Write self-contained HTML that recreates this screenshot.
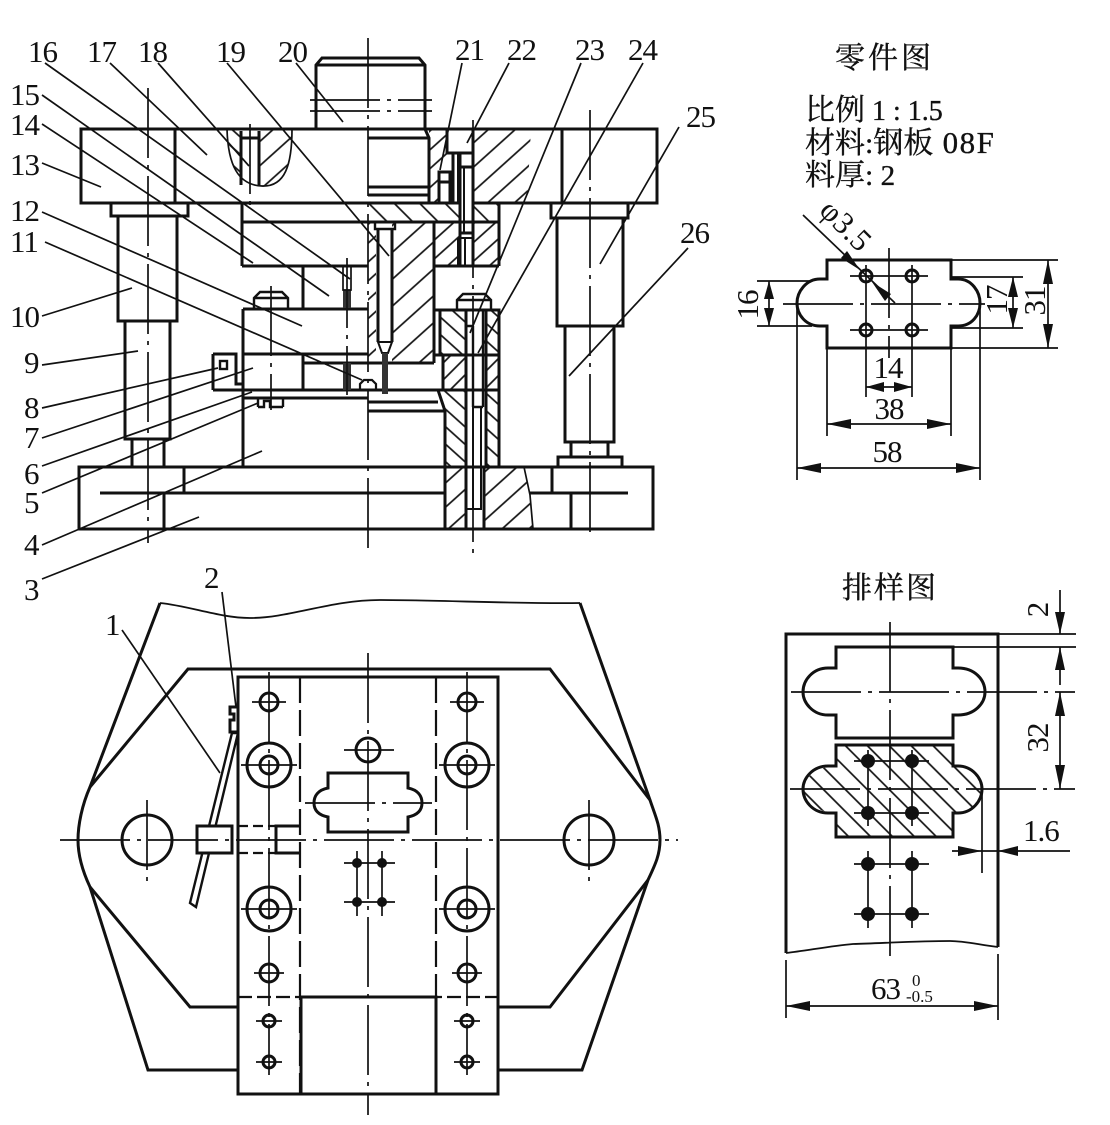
<!DOCTYPE html>
<html><head><meta charset="utf-8"><style>
html,body{margin:0;padding:0;background:#fff}
svg{display:block}
text{font-family:"Liberation Serif","Noto Serif CJK SC",serif;fill:#111}
.t{font-size:31px;letter-spacing:-1px}
.c{font-size:30px;font-family:"Liberation Serif","Noto Serif CJK SC",serif;stroke:#111;stroke-width:.35}
.k{fill:none;stroke:#111;stroke-width:3}
.w{fill:#fff;stroke:#111;stroke-width:3}
.n{fill:none;stroke:#111;stroke-width:1.7}
.cl{fill:none;stroke:#111;stroke-width:1.7;stroke-dasharray:70 7 4 7}
.d{fill:none;stroke:#111;stroke-width:2.2;stroke-dasharray:26 7}
</style></head><body>
<svg width="1110" height="1125" viewBox="0 0 1110 1125" xmlns="http://www.w3.org/2000/svg">
<defs>
<pattern id="a12" width="10" height="12" patternUnits="userSpaceOnUse" patternTransform="rotate(-45)"><line x1="0" y1="6" x2="10" y2="6" stroke="#111" stroke-width="1.7"/></pattern>
<pattern id="a14" width="10" height="14" patternUnits="userSpaceOnUse" patternTransform="rotate(-42)"><line x1="0" y1="7" x2="10" y2="7" stroke="#111" stroke-width="1.7"/></pattern>
<pattern id="a20" width="10" height="20" patternUnits="userSpaceOnUse" patternTransform="rotate(-42)"><line x1="0" y1="10" x2="10" y2="10" stroke="#111" stroke-width="1.7"/></pattern>
<pattern id="a25" width="10" height="18" patternUnits="userSpaceOnUse" patternTransform="rotate(-42)"><line x1="0" y1="9" x2="10" y2="9" stroke="#111" stroke-width="1.7"/></pattern>
<pattern id="b14" width="10" height="13" patternUnits="userSpaceOnUse" patternTransform="rotate(42)"><line x1="0" y1="6" x2="10" y2="6" stroke="#111" stroke-width="1.7"/></pattern>
<pattern id="b17" width="10" height="18" patternUnits="userSpaceOnUse" patternTransform="rotate(45)"><line x1="0" y1="9" x2="10" y2="9" stroke="#111" stroke-width="1.7"/></pattern>
<pattern id="b15" width="10" height="15.5" patternUnits="userSpaceOnUse" patternTransform="rotate(45)"><line x1="0" y1="7" x2="10" y2="7" stroke="#111" stroke-width="1.7"/></pattern>
</defs>

<!-- hatching upper view -->
<polygon fill="url(#a25)" points="473,129 531,129 527,203 473,203"/>
<polygon fill="url(#a14)" points="429,129 447,129 447,171 439,171 439,203 429,203"/>
<rect fill="url(#b17)" x="368" y="204" width="131" height="18"/>
<rect fill="url(#a14)" x="434" y="222" width="65" height="44"/>
<rect fill="url(#a20)" x="392" y="222" width="41" height="141"/>
<rect fill="url(#a14)" x="368" y="222" width="8" height="141"/>
<rect fill="url(#b14)" x="440" y="310" width="27" height="45"/>
<rect fill="url(#b14)" x="486" y="310" width="12" height="45"/>
<rect fill="url(#a12)" x="444" y="355" width="23" height="35"/>
<rect fill="url(#a12)" x="486" y="355" width="12" height="35"/>
<polygon fill="url(#b14)" points="438,390 466,390 466,467 445,467 445,411"/>
<rect fill="url(#b14)" x="486" y="390" width="12" height="77"/>
<rect fill="url(#a25)" x="446" y="467" width="20" height="62"/>
<polygon fill="url(#a25)" points="484,467 524,467 530,495 533,529 484,529"/>
<path fill="url(#a25)" d="M259,129 L292,129 C292,165 285,187 259,187Z"/>
<path fill="url(#b14)" d="M227,129 L241,129 L241,180 C232,170 228,155 227,129Z"/>

<!-- top plate -->
<g class="k">
<rect x="81" y="129" width="576" height="74"/>
<line x1="175" y1="129" x2="175" y2="203"/>
<line x1="562" y1="129" x2="562" y2="203"/>
<!-- shank -->
<path d="M316,129 V65 L322,58 H419 L425,65 V129"/>
<line x1="316" y1="65" x2="425" y2="65"/>
<path d="M425,129 L429,138 V203"/>
<line x1="368" y1="138" x2="429" y2="138"/>
<line x1="368" y1="187" x2="429" y2="187"/>
<line x1="368" y1="195" x2="429" y2="195"/>
<!-- pin head 22 -->
<path d="M447,129 V153 H473"/>
<line x1="473" y1="129" x2="473" y2="203"/>
<line x1="453" y1="153" x2="453" y2="203"/>
<line x1="458" y1="153" x2="458" y2="203" stroke-width="2"/>
<rect class="w" x="460" y="153" width="13" height="113"/>
<line x1="460" y1="167" x2="473" y2="167"/>
<line x1="464" y1="167" x2="464" y2="233" stroke-width="2"/>
<line x1="460" y1="233" x2="473" y2="233"/>
<line x1="460" y1="238" x2="473" y2="238" stroke-width="2"/>
<line x1="465" y1="238" x2="465" y2="266" stroke-width="2"/>
<line x1="458" y1="238" x2="458" y2="266" stroke-width="2"/>
<rect class="w" x="439" y="172" width="11" height="31"/>
<line x1="439" y1="182" x2="450" y2="182"/>
<!-- stop in top plate -->
<line x1="241" y1="131" x2="241" y2="185"/>
<line x1="259" y1="131" x2="259" y2="185"/>
<line x1="241" y1="138" x2="259" y2="138"/>
</g>
<path class="n" d="M227,129 C228,165 238,185 262,186 C285,187 292,165 292,129"/>

<!-- upper backing / punch plates -->
<g class="k">
<line x1="242" y1="203" x2="242" y2="266"/>
<line x1="242" y1="222" x2="499" y2="222"/>
<line x1="242" y1="266" x2="368" y2="266"/>
<line x1="434" y1="266" x2="499" y2="266"/>
<line x1="499" y1="203" x2="499" y2="266"/>
<line x1="434" y1="222" x2="434" y2="363"/>
<line x1="303" y1="266" x2="303" y2="308"/>
<!-- left guide -->
<rect x="111" y="203" width="77" height="13"/>
<rect class="w" x="118" y="216" width="59" height="105"/>
<rect class="w" x="125" y="321" width="45" height="118"/>
<path d="M132,439 V467 M164,439 V467"/>
<!-- right guide -->
<path d="M551,203 V218 H628 V203"/>
<rect class="w" x="557" y="218" width="66" height="108"/>
<rect class="w" x="565" y="326" width="49" height="116"/>
<path d="M571,442 V457 M608,442 V457"/>
<path d="M558,467 V457 H622 V467"/>
<!-- base -->
<rect x="79" y="467" width="574" height="62"/>
<line x1="100" y1="493" x2="445" y2="493"/>
<line x1="530" y1="493" x2="628" y2="493"/>
<line x1="184" y1="467" x2="184" y2="493"/>
<line x1="164" y1="493" x2="164" y2="529"/>
<line x1="552" y1="467" x2="552" y2="493"/>
<line x1="571" y1="493" x2="571" y2="529"/>
<!-- die block stack left -->
<line x1="243" y1="309" x2="243" y2="467"/>
<line x1="243" y1="309" x2="368" y2="309"/>
<line x1="243" y1="354" x2="368" y2="354"/>
<line x1="303" y1="354" x2="303" y2="390"/>
<line x1="303" y1="363" x2="376" y2="363"/>
<line x1="213" y1="390" x2="443" y2="390"/>
<line x1="243" y1="398" x2="368" y2="398"/>
<line x1="368" y1="402" x2="438" y2="402"/>
<line x1="368" y1="411" x2="445" y2="411"/>
<path d="M213,354 H236 V384 H243 M213,354 V390"/>
<rect x="220" y="361" width="7" height="8" stroke-width="2.4"/>
<path d="M258,407 V398 M283,407 V398 M258,407 H264 V401 H270 V407 H283" stroke-width="2.4"/>
<path d="M254,309 V298 L260,292 H282 L288,298 V309 M254,298 H288" stroke-width="2.4"/>
<!-- right plates -->
<path d="M434,310 H499 V467"/>
<line x1="440" y1="310" x2="440" y2="355"/>
<line x1="434" y1="310" x2="434" y2="355"/>
<line x1="434" y1="355" x2="499" y2="355"/>
<line x1="443" y1="355" x2="443" y2="390"/>
<line x1="434" y1="390" x2="499" y2="390"/>
<path d="M438,390 L445,411 V529"/>
<line x1="466" y1="310" x2="466" y2="529"/>
<line x1="486" y1="310" x2="486" y2="467"/>
<line x1="484" y1="467" x2="484" y2="529"/>
<path d="M457,309 V300 L463,294 H485 L491,300 V309 M457,300 H491" stroke-width="2.4"/>
<line x1="445" y1="467" x2="553" y2="467"/>
<!-- long pin -->
<path d="M466,326 H473 M473,326 V407 M483,310 V407 M473,407 H483" stroke-width="2.4"/>
<path d="M473,407 V510 M481,407 V510 M466,509 H481" stroke-width="2"/>
<!-- central pin -->
<path d="M375,222 V229 H395 V222" stroke-width="2.4"/>
<path d="M378,229 V342 M392,229 V342" stroke-width="3"/>
<path d="M378,342 H392 L388,353 H382Z" stroke-width="2"/>
<line x1="368" y1="363" x2="434" y2="363"/>
<path d="M360,390 V384 L364,380 H372 L376,384 V390" stroke-width="2.2"/>
</g>
<path class="n" d="M524,467 L530,495 L533,529"/>
<rect x="382" y="353" width="6" height="41" fill="#333"/>
<rect x="343" y="290" width="8" height="18" fill="#333"/>
<rect x="343" y="363" width="8" height="27" fill="#333"/>
<path class="n" stroke-width="2.4" d="M343,266 V290 H351 V266"/>

<!-- center lines upper -->
<line class="cl" x1="368" y1="38" x2="368" y2="555"/>
<line class="cl" x1="148" y1="88" x2="148" y2="543"/>
<line class="cl" x1="590" y1="110" x2="590" y2="538"/>
<line class="cl" x1="473" y1="120" x2="473" y2="560"/>
<line class="cl" x1="271" y1="286" x2="271" y2="410"/>
<line class="cl" x1="347" y1="258" x2="347" y2="395"/>
<line class="cl" x1="250" y1="124" x2="250" y2="212"/>
<line class="cl" x1="310" y1="100" x2="432" y2="100"/>
<line class="cl" x1="310" y1="111" x2="432" y2="111"/>

<!-- leaders -->
<g class="n">
<line x1="45" y1="63" x2="350" y2="279"/>
<line x1="110" y1="63" x2="207" y2="155"/>
<line x1="158" y1="63" x2="249" y2="166"/>
<line x1="227" y1="63" x2="389" y2="256"/>
<line x1="296" y1="63" x2="343" y2="122"/>
<line x1="462" y1="63" x2="440" y2="170"/>
<line x1="509" y1="63" x2="467" y2="143"/>
<line x1="581" y1="63" x2="470" y2="333"/>
<line x1="643" y1="63" x2="478" y2="353"/>
<line x1="679" y1="127" x2="600" y2="264"/>
<line x1="688" y1="248" x2="569" y2="376"/>
<line x1="42" y1="95" x2="329" y2="296"/>
<line x1="42" y1="124" x2="253" y2="263"/>
<line x1="42" y1="163" x2="101" y2="187"/>
<line x1="42" y1="212" x2="302" y2="326"/>
<line x1="45" y1="242" x2="362" y2="380"/>
<line x1="42" y1="316" x2="132" y2="288"/>
<line x1="42" y1="365" x2="138" y2="351"/>
<line x1="42" y1="408" x2="218" y2="368"/>
<line x1="42" y1="438" x2="253" y2="368"/>
<line x1="42" y1="466" x2="252" y2="392"/>
<line x1="42" y1="493" x2="258" y2="403"/>
<line x1="42" y1="545" x2="262" y2="451"/>
<line x1="42" y1="579" x2="199" y2="517"/>
<line x1="122" y1="630" x2="220" y2="773"/>
<line x1="222" y1="592" x2="236" y2="707"/>
</g>

<!-- labels -->
<g class="t">
<text x="28" y="62">16</text><text x="87" y="62">17</text><text x="138" y="62">18</text><text x="216" y="62">19</text><text x="278" y="62">20</text>
<text x="455" y="60">21</text><text x="507" y="60">22</text><text x="575" y="60">23</text><text x="628" y="60">24</text>
<text x="686" y="127">25</text><text x="680" y="243">26</text>
<text x="10" y="105">15</text><text x="10" y="135">14</text><text x="10" y="175">13</text><text x="10" y="221">12</text><text x="10" y="252">11</text><text x="10" y="327">10</text>
<text x="24" y="373">9</text><text x="24" y="418">8</text><text x="24" y="448">7</text><text x="24" y="484">6</text><text x="24" y="513">5</text><text x="24" y="555">4</text><text x="24" y="600">3</text>
<text x="204" y="588">2</text><text x="105" y="635">1</text>
</g>

<!-- lower view -->
<path fill="none" stroke="#111" stroke-width="1.8" d="M160,603 C190,606 220,618 250,618 C290,618 330,600 380,600 C440,600 520,604 580,603"/>
<g class="k" stroke-width="2.6">
<path d="M580,603 L650,800 C655,815 660,825 660,840 C660,855 655,865 648,880 L582,1070 H498"/>
<path d="M160,603 L90,787 C82,805 78,825 78,840 C78,855 82,870 90,887 L148,1070 H238"/>
<path d="M90,787 L188,669 H550 L650,800"/>
<path d="M90,887 L190,1007 H238 M498,1007 H550 L648,880"/>
</g>
<rect class="w" x="238" y="677" width="260" height="417"/>
<g class="k">
<rect x="301" y="997" width="135" height="97"/>
<circle cx="147" cy="840" r="25"/><circle cx="589" cy="840" r="25"/>
<circle cx="368" cy="750" r="12"/>
<circle cx="269" cy="702" r="9"/><circle cx="467" cy="702" r="9"/>
<circle cx="269" cy="765" r="22"/><circle cx="269" cy="765" r="9"/>
<circle cx="467" cy="765" r="22"/><circle cx="467" cy="765" r="9"/>
<circle cx="269" cy="909" r="22"/><circle cx="269" cy="909" r="9"/>
<circle cx="467" cy="909" r="22"/><circle cx="467" cy="909" r="9"/>
<circle cx="269" cy="973" r="9"/><circle cx="467" cy="973" r="9"/>
<circle cx="269" cy="1021" r="6"/><circle cx="467" cy="1021" r="6"/>
<circle cx="269" cy="1062" r="6"/><circle cx="467" cy="1062" r="6"/>
<path d="M328,788 V773 H408 V788 C418,790 422,796 422,803 C422,810 418,815 408,817 V832 H328 V817 C318,815 314,810 314,803 C314,796 318,790 328,788Z"/>
<path d="M300,826 H276 V853 H300"/>
</g>
<g fill="#111"><circle cx="357" cy="863" r="5"/><circle cx="382" cy="863" r="5"/><circle cx="357" cy="902" r="5"/><circle cx="382" cy="902" r="5"/></g>
<g class="d">
<line x1="300" y1="677" x2="300" y2="1094"/>
<line x1="436" y1="677" x2="436" y2="1094"/>
<line x1="238" y1="997" x2="498" y2="997" stroke-dasharray="14 5"/>
<line x1="238" y1="826" x2="276" y2="826" stroke-dasharray="10 5"/>
<line x1="238" y1="853" x2="276" y2="853" stroke-dasharray="10 5"/>
</g>
<!-- lever -->
<polygon points="232,733 238,733 196,907 190,903" fill="#fff" stroke="#111" stroke-width="2.4"/>
<rect class="w" x="197" y="826" width="35" height="27"/>
<line class="k" x1="232" y1="826" x2="232" y2="853"/>
<line class="k" x1="238" y1="826" x2="238" y2="853"/>
<path class="k" stroke-width="2.4" d="M238,707 H230 V714 H234 V720 H230 V732 H238"/>

<g class="cl">
<line x1="60" y1="840" x2="678" y2="840"/>
<line x1="368" y1="653" x2="368" y2="1115"/>
<line x1="147" y1="800" x2="147" y2="882"/>
<line x1="589" y1="800" x2="589" y2="882"/>
<line x1="269" y1="672" x2="269" y2="1075"/>
<line x1="467" y1="672" x2="467" y2="1075"/>
<line x1="305" y1="803" x2="432" y2="803"/>
<line x1="357" y1="851" x2="357" y2="916"/>
<line x1="382" y1="851" x2="382" y2="916"/>
</g>
<g class="n">
<path d="M252,702 H286 M450,702 H484 M241,765 H297 M439,765 H495 M241,909 H297 M439,909 H495 M254,973 H284 M452,973 H482 M256,1021 H282 M454,1021 H480 M256,1062 H282 M454,1062 H480 M344,750 H394 M344,863 H395 M344,902 H395"/>
</g>

<!-- titles -->
<g class="c">
<text x="835" y="68" letter-spacing="3">零件图</text>
<text x="805" y="120">比例<tspan font-size="28"> 1 : 1.5</tspan></text>
<text x="805" y="153">材料:钢板<tspan font-size="31" letter-spacing="1.5"> 08F</tspan></text>
<text x="805" y="185">料厚:<tspan font-size="29"> 2</tspan></text>
<text x="842" y="598" letter-spacing="2">排样图</text>
</g>

<!-- part drawing -->
<path class="k" d="M827,279 V260 H951 V279 H958 C972,279 980,292 980,303 C980,315 972,326 958,326 H951 V348 H827 V326 H820 C806,326 797,315 797,303 C797,292 806,279 820,279Z"/>
<g class="k">
<circle cx="866" cy="276" r="6"/><circle cx="912" cy="276" r="6"/><circle cx="866" cy="330" r="6"/><circle cx="912" cy="330" r="6"/>
</g>
<g class="n">
<path d="M850,276 H928 M850,330 H928 M866,265 V397 M912,265 V397"/>
<path d="M757,281 H812 M757,326 H812 M951,277 H1023 M951,328 H1023 M951,260 H1058 M951,348 H1058"/>
<path d="M769,281 V326 M1013,277 V328 M1048,260 V348"/>
<path d="M827,348 V436 M951,348 V436 M797,304 V480 M980,304 V480"/>
<path d="M866,387 H912 M827,424 H951 M797,468 H980"/>
<path d="M803,215 L895,303"/>
</g>
<line class="cl" x1="783" y1="304" x2="985" y2="304" stroke-dasharray="110 6 12 6"/>
<line class="cl" x1="889" y1="248" x2="889" y2="358" stroke-dasharray="70 5 6 5"/>
<g fill="#111">
<polygon points="769,281 764,299 774,299"/><polygon points="769,326 764,308 774,308"/>
<polygon points="1013,277 1008,297 1018,297"/><polygon points="1013,328 1008,308 1018,308"/>
<polygon points="1048,260 1043,284 1053,284"/><polygon points="1048,348 1043,324 1053,324"/>
<polygon points="866,387 884,382 884,392"/><polygon points="912,387 894,382 894,392"/>
<polygon points="827,424 851,419 851,429"/><polygon points="951,424 927,419 927,429"/>
<polygon points="797,468 821,463 821,473"/><polygon points="980,468 956,463 956,473"/>
<polygon points="860,270 841,258 847,251"/><polygon points="872,282 891,294 885,301"/>
</g>
<g class="t">
<text transform="translate(758,305) rotate(-90)" text-anchor="middle">16</text>
<text transform="translate(1007,300) rotate(-90)" text-anchor="middle">17</text>
<text transform="translate(1045,301) rotate(-90)" text-anchor="middle">31</text>
<text x="888" y="378" text-anchor="middle">14</text>
<text x="889" y="419" text-anchor="middle">38</text>
<text x="887" y="462" text-anchor="middle">58</text>
<text transform="translate(818,212) rotate(45)" letter-spacing="0.5">φ3.5</text>
</g>

<!-- strip drawing -->
<path fill="url(#b15)" d="M836,766 V745 H953 V766 C970,766 982,778 982,789 C982,801 970,813 953,813 V837 H836 V813 C818,813 803,801 803,789 C803,778 818,766 836,766Z"/>
<path class="k" d="M786,953 V634 H998 V947"/>
<path fill="none" stroke="#111" stroke-width="1.8" d="M786,953 C805,951 830,946 853,944 C885,943 920,941 950,941 C965,941 980,945 998,947"/>
<path class="k" d="M836,668 V647 H953 V668 H958 C975,668 985,680 985,692 C985,703 975,715 958,715 H953 V738 H836 V715 H828 C813,715 803,703 803,692 C803,680 813,668 828,668Z"/>
<path class="k" d="M836,766 V745 H953 V766 H958 C972,766 982,778 982,789 C982,801 972,813 958,813 H953 V837 H836 V813 H828 C813,813 803,801 803,789 C803,778 813,766 828,766Z"/>
<g fill="#111">
<circle cx="868" cy="761" r="7"/><circle cx="912" cy="761" r="7"/><circle cx="868" cy="813" r="7"/><circle cx="912" cy="813" r="7"/>
<circle cx="868" cy="864" r="7"/><circle cx="912" cy="864" r="7"/><circle cx="868" cy="914" r="7"/><circle cx="912" cy="914" r="7"/>
</g>
<g class="n">
<path d="M854,761 H929 M854,813 H929 M868,750 V826 M912,750 V826 M854,864 H929 M854,914 H929 M868,851 V928 M912,851 V928"/>
<path d="M998,634 H1076 M953,647 H1076 M1060,590 V634 M1060,647 V685 M1060,692 V789"/>
<path d="M982,789 V873 M952,851 H1070"/>
<path d="M786,960 V1018 M998,954 V1020 M786,1006 H998"/>
</g>
<line class="cl" x1="890" y1="622" x2="890" y2="961" stroke-dasharray="46 7 5 7"/>
<line class="cl" x1="791" y1="692" x2="1075" y2="692" stroke-dasharray="95 6 6 6"/>
<line class="cl" x1="790" y1="789" x2="1075" y2="789" stroke-dasharray="140 6 12 6"/>
<g fill="#111">
<polygon points="1060,634 1055,612 1065,612"/><polygon points="1060,647 1055,670 1065,670"/>
<polygon points="1060,692 1055,716 1065,716"/><polygon points="1060,789 1055,765 1065,765"/>
<polygon points="982,851 958,846 958,856"/><polygon points="998,851 1018,846 1018,856"/>
<polygon points="786,1006 810,1001 810,1011"/><polygon points="998,1006 974,1001 974,1011"/>
</g>
<g class="t">
<text transform="translate(1048,610) rotate(-90)" text-anchor="middle">2</text>
<text transform="translate(1048,738) rotate(-90)" text-anchor="middle">32</text>
<text x="1023" y="841">1.6</text>
<text x="871" y="999">63</text>
</g>
<text x="912" y="986" font-size="17">0</text>
<text x="906" y="1002" font-size="17">-0.5</text>
</svg>
</body></html>
